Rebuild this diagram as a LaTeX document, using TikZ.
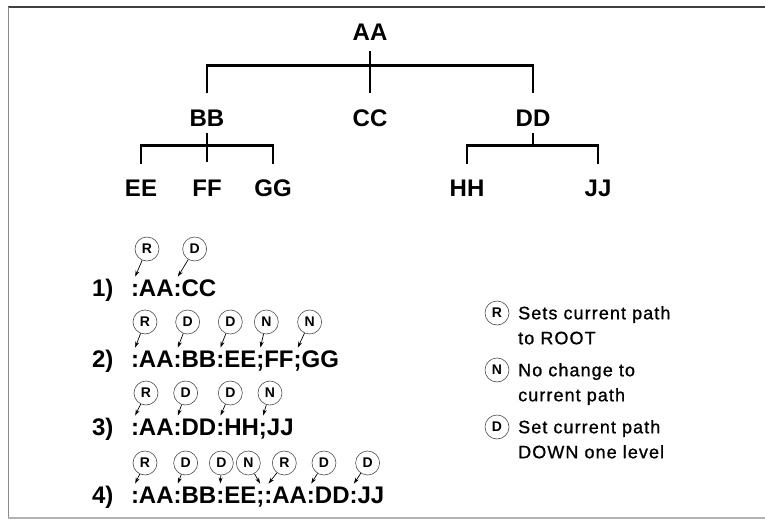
\documentclass[tikz,border=0pt]{standalone}
\usepackage{fontspec}
\setmainfont{Liberation Sans}
\newfontfamily\notefont[LetterSpace=6,FakeBold=1]{Liberation Sans}
\usetikzlibrary{arrows.meta}
\newcommand\bigtxt{\fontsize{24}{28}\selectfont\bfseries}
\newcommand\flagtxt{\fontsize{14}{16}\selectfont\bfseries}
\newcommand\notetxt{\notefont\fontsize{18}{25}\selectfont}
\tikzset{
  lab/.style={font=\bigtxt, inner sep=0pt, anchor=base},
  tree/.style={line width=2.8pt},
  tok/.style={font=\bigtxt, inner sep=0pt, outer sep=0pt, anchor=base west},
  flag/.style={circle, draw=black!70, line width=0.6pt, inner sep=0pt, minimum size=24pt, font=\flagtxt},
  ptr/.style={->, line width=0.7pt, shorten >=0.5pt},
  note/.style={font=\notetxt, inner sep=0pt, anchor=north west, align=left}
}
\begin{document}
\begin{tikzpicture}[x=1pt, y=-1pt, >={Stealth[length=6pt,width=4pt]}]
  \useasboundingbox (0,0) rectangle (765,527);
  % frame
  \draw[black!75, line width=1.2pt] (765,7) -- (8,7);
  \draw[black!45, line width=0.8pt] (8,7) -- (8,518);
  \draw[black!30, line width=1.6pt] (8,518) -- (765,518);
  % tree
  \node[lab] (aa) at (370,41) {AA};
  \node[lab] (bb) at (207,126) {BB};
  \node[lab] (cc) at (370,126) {CC};
  \node[lab] (dd) at (533,126) {DD};
  \node[lab] (ee) at (141,196) {EE};
  \node[lab] (ff) at (207,196) {FF};
  \node[lab] (gg) at (273,196) {GG};
  \node[lab] (hh) at (467,196) {HH};
  \node[lab] (jj) at (598,196) {JJ};
  \draw[tree] ([yshift=-10pt]aa.south) -- ([yshift=16pt]cc.north);
  \draw[tree] ([yshift=16pt]bb.north) -- ([yshift=44pt]bb.north) -| ([yshift=16pt]dd.north);
  \draw[tree] ([yshift=-7pt]bb.south) -- ([yshift=17pt]ff.north);
  \draw[tree] ([yshift=15pt]ee.north) -- ([yshift=34pt]ee.north) -| ([yshift=15pt]gg.north);
  \draw[tree] ([yshift=-7pt]dd.south) -- ([yshift=-19pt]dd.south);
  \draw[tree] ([yshift=15pt]hh.north) -- ([yshift=34pt]hh.north) -| ([yshift=15pt]jj.north);
  % 1) :AA:CC
  \node[tok] (n1) at (92,296) {1)};
  \node[tok] (a0) at (130,296) {};
  \foreach \s [count=\i, remember=\i as \j (initially 0)] in {:,AA,:,CC}{
    \node[tok] (a\i) at (a\j.base east) {\s};
  }
  \foreach \k/\f/\dx in {1/R/12pt,3/D/17pt}{
    \node[flag] (fa\k) at ([shift={(\dx,47pt)}]a\k.base) {\f};
    \draw[ptr] (fa\k) -- ([yshift=19pt]a\k.base);
  }
  % 2) :AA:BB:EE;FF;GG
  \node[tok] (n2) at (92,367) {2)};
  \node[tok] (b0) at (130,367) {};
  \foreach \s [count=\i, remember=\i as \j (initially 0)] in {:,AA,:,BB,:,EE,;,FF,;,GG}{
    \node[tok] (b\i) at (b\j.base east) {\s};
  }
  \foreach \k/\f/\dx in {1/R/10pt,3/D/10pt,5/D/10pt,7/N/6pt,9/N/12pt}{
    \node[flag] (fb\k) at ([shift={(\dx,45pt)}]b\k.base) {\f};
    \draw[ptr] (fb\k) -- ([yshift=19pt]b\k.base);
  }
  % 3) :AA:DD:HH;JJ
  \node[tok] (n3) at (92,435) {3)};
  \node[tok] (c0) at (130,435) {};
  \foreach \s [count=\i, remember=\i as \j (initially 0)] in {:,AA,:,DD,:,HH,;,JJ}{
    \node[tok] (c\i) at (c\j.base east) {\s};
  }
  \foreach \k/\f/\dx in {1/R/11pt,3/D/8pt,5/D/10pt,7/N/7pt}{
    \node[flag] (fc\k) at ([shift={(\dx,42pt)}]c\k.base) {\f};
    \draw[ptr] (fc\k) -- ([yshift=19pt]c\k.base);
  }
  % 4) :AA:BB:EE;:AA:DD:JJ
  \node[tok] (n4) at (92,503) {4)};
  \node[tok] (d0) at (130,503) {};
  \foreach \s [count=\i, remember=\i as \j (initially 0)] in {:,AA,:,BB,:,EE,;,:,AA,:,DD,:,JJ}{
    \node[tok] (d\i) at (d\j.base east) {\s};
  }
  \foreach \k/\f/\dx in {1/R/10pt,3/D/8pt,5/D/1pt,7/N/-12pt,8/R/16pt,10/D/13pt,12/D/14pt}{
    \node[flag] (fd\k) at ([shift={(\dx,40pt)}]d\k.base) {\f};
    \draw[ptr] (fd\k) -- ([yshift=19pt]d\k.base);
  }
  % legend
  \node[flag] (kr) at (497,313) {R};
  \node[note] (tr) at (518,306) {Sets current path\\to ROOT};
  \node[flag] (kn) at (497,370) {N};
  \node[note] (tn) at (518,363) {No change to\\current path};
  \node[flag] (kd) at (497,427) {D};
  \node[note] (td) at (518,420) {Set current path\\DOWN one level};
\end{tikzpicture}
\end{document}
